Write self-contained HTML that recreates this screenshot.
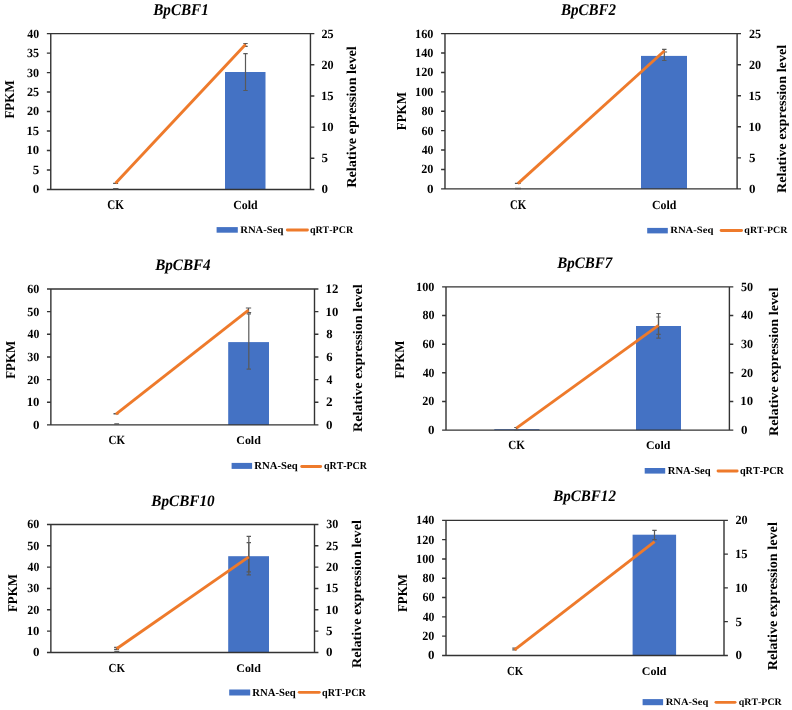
<!DOCTYPE html>
<html><head><meta charset="utf-8"><style>
html,body{margin:0;padding:0;background:#fff;width:792px;height:710px;overflow:hidden}
svg{display:block;will-change:transform}
text{font-family:"Liberation Serif",serif;font-kerning:none;text-rendering:geometricPrecision}
</style></head><body>
<svg width="792" height="710" viewBox="0 0 792 710">
<rect width="792" height="710" fill="#fff"/>
<rect x="225.00" y="72.00" width="40.50" height="117.43" fill="#4472C4"/>
<path d="M46.86,33.66H314.35M46.86,189.43H314.35M50.76,33.66V189.43M310.45,33.66V189.43" stroke="#333333" stroke-width="1.4" fill="none"/>
<path d="M46.86,169.96H50.76M46.86,150.49H50.76M46.86,131.02H50.76M46.86,111.55H50.76M46.86,92.07H50.76M46.86,72.60H50.76M46.86,53.13H50.76M310.45,158.28H314.35M310.45,127.12H314.35M310.45,95.97H314.35M310.45,64.81H314.35" stroke="#333333" stroke-width="1.4" fill="none"/>
<path d="M245.50,53.70V90.50M243.30,53.70H247.70M243.30,90.50H247.70" stroke="#595959" stroke-width="1.2" fill="none"/>
<path d="M115.80,188.60V188.90M113.10,188.60H118.50M113.10,188.90H118.50" stroke="#595959" stroke-width="1.2" fill="none"/>
<path d="M245.50,43.50V46.30M243.30,43.50H247.70M243.30,46.30H247.70" stroke="#595959" stroke-width="1.2" fill="none"/>
<path d="M115.60,183.30V183.30M113.10,183.30H118.10M113.10,183.30H118.10" stroke="#595959" stroke-width="1.2" fill="none"/>
<path d="M115.50,183.30L245.50,44.60" stroke="#EE7A2B" stroke-width="2.9" stroke-linecap="butt" fill="none"/>
<text x="32.71" y="193.36" font-size="12.60" font-weight="bold" font-style="normal" textLength="6.49" lengthAdjust="spacingAndGlyphs" fill="#000" >0</text>
<text x="32.68" y="173.88" font-size="12.79" font-weight="bold" font-style="normal" textLength="6.50" lengthAdjust="spacingAndGlyphs" fill="#000" >5</text>
<text x="26.48" y="154.41" font-size="12.60" font-weight="bold" font-style="normal" textLength="12.70" lengthAdjust="spacingAndGlyphs" fill="#000" >10</text>
<text x="26.48" y="134.94" font-size="12.69" font-weight="bold" font-style="normal" textLength="12.68" lengthAdjust="spacingAndGlyphs" fill="#000" >15</text>
<text x="26.99" y="115.47" font-size="12.60" font-weight="bold" font-style="normal" textLength="12.17" lengthAdjust="spacingAndGlyphs" fill="#000" >20</text>
<text x="26.99" y="96.00" font-size="12.65" font-weight="bold" font-style="normal" textLength="12.16" lengthAdjust="spacingAndGlyphs" fill="#000" >25</text>
<text x="27.04" y="76.53" font-size="12.60" font-weight="bold" font-style="normal" textLength="12.12" lengthAdjust="spacingAndGlyphs" fill="#000" >30</text>
<text x="27.05" y="57.06" font-size="12.65" font-weight="bold" font-style="normal" textLength="12.10" lengthAdjust="spacingAndGlyphs" fill="#000" >35</text>
<text x="27.34" y="37.59" font-size="12.60" font-weight="bold" font-style="normal" textLength="11.81" lengthAdjust="spacingAndGlyphs" fill="#000" >40</text>
<text x="321.51" y="193.36" font-size="12.60" font-weight="bold" font-style="normal" textLength="6.49" lengthAdjust="spacingAndGlyphs" fill="#000" >0</text>
<text x="321.48" y="162.20" font-size="12.79" font-weight="bold" font-style="normal" textLength="6.50" lengthAdjust="spacingAndGlyphs" fill="#000" >5</text>
<text x="320.98" y="131.05" font-size="12.60" font-weight="bold" font-style="normal" textLength="12.70" lengthAdjust="spacingAndGlyphs" fill="#000" >10</text>
<text x="320.98" y="99.89" font-size="12.69" font-weight="bold" font-style="normal" textLength="12.68" lengthAdjust="spacingAndGlyphs" fill="#000" >15</text>
<text x="321.49" y="68.74" font-size="12.60" font-weight="bold" font-style="normal" textLength="12.17" lengthAdjust="spacingAndGlyphs" fill="#000" >20</text>
<text x="321.49" y="37.59" font-size="12.65" font-weight="bold" font-style="normal" textLength="12.16" lengthAdjust="spacingAndGlyphs" fill="#000" >25</text>
<text x="153.24" y="14.60" font-size="16.31" font-weight="bold" font-style="italic" textLength="55.49" lengthAdjust="spacingAndGlyphs" fill="#000" >BpCBF1</text>
<text transform="translate(13.90,118.62) rotate(-90)" x="0" y="0" font-size="13.59" font-weight="bold" textLength="38.40" lengthAdjust="spacingAndGlyphs" fill="#000">FPKM</text>
<text transform="translate(356.45,187.74) rotate(-90)" x="0" y="0" font-size="13.62" font-weight="bold" textLength="141.54" lengthAdjust="spacingAndGlyphs" fill="#000">Relative epression level</text>
<text x="107.36" y="208.70" font-size="13.29" font-weight="bold" font-style="normal" textLength="16.58" lengthAdjust="spacingAndGlyphs" fill="#000" >CK</text>
<text x="233.22" y="208.70" font-size="12.39" font-weight="bold" font-style="normal" textLength="24.41" lengthAdjust="spacingAndGlyphs" fill="#000" >Cold</text>
<rect x="216.60" y="227.10" width="21.20" height="5.60" fill="#4472C4"/>
<path d="M287.30,230.00H307.50" stroke="#EE7A2B" stroke-width="2.8" stroke-linecap="round" fill="none"/>
<text x="240.22" y="232.50" font-size="10.12" font-weight="bold" font-style="normal" textLength="43.08" lengthAdjust="spacingAndGlyphs" fill="#000" >RNA-Seq</text>
<text x="309.89" y="232.50" font-size="10.12" font-weight="bold" font-style="normal" textLength="43.22" lengthAdjust="spacingAndGlyphs" fill="#000" >qRT-PCR</text>
<rect x="641.00" y="55.90" width="46.00" height="132.97" fill="#4472C4"/>
<path d="M441.08,33.66H741.00M441.08,188.87H741.00M444.98,33.66V188.87M737.10,33.66V188.87" stroke="#333333" stroke-width="1.4" fill="none"/>
<path d="M441.08,169.47H444.98M441.08,150.07H444.98M441.08,130.67H444.98M441.08,111.27H444.98M441.08,91.86H444.98M441.08,72.46H444.98M441.08,53.06H444.98M737.10,157.83H741.00M737.10,126.79H741.00M737.10,95.74H741.00M737.10,64.70H741.00" stroke="#333333" stroke-width="1.4" fill="none"/>
<path d="M664.30,49.30V60.50M662.10,49.30H666.50M662.10,60.50H666.50" stroke="#595959" stroke-width="1.2" fill="none"/>
<path d="M518.00,188.30V188.60M515.00,188.30H521.00M515.00,188.60H521.00" stroke="#595959" stroke-width="1.2" fill="none"/>
<path d="M517.80,183.30V183.30M514.90,183.30H520.70M514.90,183.30H520.70" stroke="#595959" stroke-width="1.2" fill="none"/>
<path d="M664.80,52.00V52.00M662.50,52.00H667.10M662.50,52.00H667.10" stroke="#595959" stroke-width="1.2" fill="none"/>
<path d="M517.80,183.60L664.50,50.80" stroke="#EE7A2B" stroke-width="2.9" stroke-linecap="butt" fill="none"/>
<text x="427.01" y="192.80" font-size="12.60" font-weight="bold" font-style="normal" textLength="6.49" lengthAdjust="spacingAndGlyphs" fill="#000" >0</text>
<text x="421.29" y="173.40" font-size="12.60" font-weight="bold" font-style="normal" textLength="12.17" lengthAdjust="spacingAndGlyphs" fill="#000" >20</text>
<text x="421.64" y="153.99" font-size="12.60" font-weight="bold" font-style="normal" textLength="11.81" lengthAdjust="spacingAndGlyphs" fill="#000" >40</text>
<text x="421.39" y="134.59" font-size="12.60" font-weight="bold" font-style="normal" textLength="12.07" lengthAdjust="spacingAndGlyphs" fill="#000" >60</text>
<text x="421.40" y="115.19" font-size="12.60" font-weight="bold" font-style="normal" textLength="12.06" lengthAdjust="spacingAndGlyphs" fill="#000" >80</text>
<text x="415.12" y="95.79" font-size="12.60" font-weight="bold" font-style="normal" textLength="18.35" lengthAdjust="spacingAndGlyphs" fill="#000" >100</text>
<text x="415.12" y="76.39" font-size="12.60" font-weight="bold" font-style="normal" textLength="18.35" lengthAdjust="spacingAndGlyphs" fill="#000" >120</text>
<text x="415.12" y="56.99" font-size="12.60" font-weight="bold" font-style="normal" textLength="18.35" lengthAdjust="spacingAndGlyphs" fill="#000" >140</text>
<text x="415.12" y="37.59" font-size="12.60" font-weight="bold" font-style="normal" textLength="18.35" lengthAdjust="spacingAndGlyphs" fill="#000" >160</text>
<text x="749.01" y="192.80" font-size="12.60" font-weight="bold" font-style="normal" textLength="6.49" lengthAdjust="spacingAndGlyphs" fill="#000" >0</text>
<text x="748.98" y="161.75" font-size="12.79" font-weight="bold" font-style="normal" textLength="6.50" lengthAdjust="spacingAndGlyphs" fill="#000" >5</text>
<text x="748.48" y="130.71" font-size="12.60" font-weight="bold" font-style="normal" textLength="12.70" lengthAdjust="spacingAndGlyphs" fill="#000" >10</text>
<text x="748.48" y="99.67" font-size="12.69" font-weight="bold" font-style="normal" textLength="12.68" lengthAdjust="spacingAndGlyphs" fill="#000" >15</text>
<text x="748.99" y="68.63" font-size="12.60" font-weight="bold" font-style="normal" textLength="12.17" lengthAdjust="spacingAndGlyphs" fill="#000" >20</text>
<text x="748.99" y="37.59" font-size="12.65" font-weight="bold" font-style="normal" textLength="12.16" lengthAdjust="spacingAndGlyphs" fill="#000" >25</text>
<text x="560.94" y="14.60" font-size="16.31" font-weight="bold" font-style="italic" textLength="55.11" lengthAdjust="spacingAndGlyphs" fill="#000" >BpCBF2</text>
<text transform="translate(406.20,130.32) rotate(-90)" x="0" y="0" font-size="13.74" font-weight="bold" textLength="38.30" lengthAdjust="spacingAndGlyphs" fill="#000">FPKM</text>
<text transform="translate(785.80,193.04) rotate(-90)" x="0" y="0" font-size="13.26" font-weight="bold" textLength="148.29" lengthAdjust="spacingAndGlyphs" fill="#000">Relative expression level</text>
<text x="509.97" y="208.70" font-size="13.29" font-weight="bold" font-style="normal" textLength="16.26" lengthAdjust="spacingAndGlyphs" fill="#000" >CK</text>
<text x="652.02" y="208.70" font-size="12.39" font-weight="bold" font-style="normal" textLength="24.41" lengthAdjust="spacingAndGlyphs" fill="#000" >Cold</text>
<rect x="647.20" y="227.90" width="20.60" height="5.50" fill="#4472C4"/>
<path d="M721.10,230.50H741.60" stroke="#EE7A2B" stroke-width="2.8" stroke-linecap="round" fill="none"/>
<text x="670.22" y="233.40" font-size="9.67" font-weight="bold" font-style="normal" textLength="43.18" lengthAdjust="spacingAndGlyphs" fill="#000" >RNA-Seq</text>
<text x="744.39" y="233.40" font-size="9.67" font-weight="bold" font-style="normal" textLength="43.02" lengthAdjust="spacingAndGlyphs" fill="#000" >qRT-PCR</text>
<rect x="228.20" y="342.10" width="40.80" height="82.80" fill="#4472C4"/>
<path d="M46.97,289.00H318.40M46.97,424.90H318.40M50.87,289.00V424.90M314.50,289.00V424.90" stroke="#333333" stroke-width="1.4" fill="none"/>
<path d="M46.97,402.25H50.87M46.97,379.60H50.87M46.97,356.95H50.87M46.97,334.30H50.87M46.97,311.65H50.87M314.50,402.25H318.40M314.50,379.60H318.40M314.50,356.95H318.40M314.50,334.30H318.40M314.50,311.65H318.40" stroke="#333333" stroke-width="1.4" fill="none"/>
<path d="M248.80,313.90V369.10M246.60,313.90H251.00M246.60,369.10H251.00" stroke="#595959" stroke-width="1.2" fill="none"/>
<path d="M116.70,423.90V424.30M114.30,423.90H119.10M114.30,424.30H119.10" stroke="#595959" stroke-width="1.2" fill="none"/>
<path d="M248.50,308.00V312.50M245.85,308.00H251.15M245.85,312.50H251.15" stroke="#595959" stroke-width="1.2" fill="none"/>
<path d="M116.00,413.50V413.90M113.50,413.50H118.50M113.50,413.90H118.50" stroke="#595959" stroke-width="1.2" fill="none"/>
<path d="M116.00,414.10L248.50,310.20" stroke="#EE7A2B" stroke-width="2.9" stroke-linecap="butt" fill="none"/>
<text x="32.91" y="428.83" font-size="12.60" font-weight="bold" font-style="normal" textLength="6.49" lengthAdjust="spacingAndGlyphs" fill="#000" >0</text>
<text x="26.68" y="406.18" font-size="12.60" font-weight="bold" font-style="normal" textLength="12.70" lengthAdjust="spacingAndGlyphs" fill="#000" >10</text>
<text x="27.19" y="383.53" font-size="12.60" font-weight="bold" font-style="normal" textLength="12.17" lengthAdjust="spacingAndGlyphs" fill="#000" >20</text>
<text x="27.24" y="360.88" font-size="12.60" font-weight="bold" font-style="normal" textLength="12.12" lengthAdjust="spacingAndGlyphs" fill="#000" >30</text>
<text x="27.54" y="338.23" font-size="12.60" font-weight="bold" font-style="normal" textLength="11.81" lengthAdjust="spacingAndGlyphs" fill="#000" >40</text>
<text x="27.21" y="315.58" font-size="12.60" font-weight="bold" font-style="normal" textLength="12.15" lengthAdjust="spacingAndGlyphs" fill="#000" >50</text>
<text x="27.29" y="292.93" font-size="12.60" font-weight="bold" font-style="normal" textLength="12.07" lengthAdjust="spacingAndGlyphs" fill="#000" >60</text>
<text x="326.11" y="428.83" font-size="12.60" font-weight="bold" font-style="normal" textLength="6.49" lengthAdjust="spacingAndGlyphs" fill="#000" >0</text>
<text x="326.04" y="406.30" font-size="12.84" font-weight="bold" font-style="normal" textLength="6.63" lengthAdjust="spacingAndGlyphs" fill="#000" >2</text>
<text x="326.44" y="383.65" font-size="12.91" font-weight="bold" font-style="normal" textLength="5.88" lengthAdjust="spacingAndGlyphs" fill="#000" >4</text>
<text x="326.17" y="360.88" font-size="12.65" font-weight="bold" font-style="normal" textLength="6.30" lengthAdjust="spacingAndGlyphs" fill="#000" >6</text>
<text x="326.18" y="338.23" font-size="12.60" font-weight="bold" font-style="normal" textLength="6.34" lengthAdjust="spacingAndGlyphs" fill="#000" >8</text>
<text x="325.58" y="315.58" font-size="12.60" font-weight="bold" font-style="normal" textLength="12.70" lengthAdjust="spacingAndGlyphs" fill="#000" >10</text>
<text x="325.58" y="293.05" font-size="12.84" font-weight="bold" font-style="normal" textLength="12.77" lengthAdjust="spacingAndGlyphs" fill="#000" >12</text>
<text x="155.14" y="269.60" font-size="16.01" font-weight="bold" font-style="italic" textLength="55.52" lengthAdjust="spacingAndGlyphs" fill="#000" >BpCBF4</text>
<text transform="translate(14.90,378.82) rotate(-90)" x="0" y="0" font-size="13.59" font-weight="bold" textLength="38.09" lengthAdjust="spacingAndGlyphs" fill="#000">FPKM</text>
<text transform="translate(362.10,432.04) rotate(-90)" x="0" y="0" font-size="13.12" font-weight="bold" textLength="147.83" lengthAdjust="spacingAndGlyphs" fill="#000">Relative expression level</text>
<text x="108.46" y="444.00" font-size="12.54" font-weight="bold" font-style="normal" textLength="16.52" lengthAdjust="spacingAndGlyphs" fill="#000" >CK</text>
<text x="236.27" y="443.90" font-size="11.67" font-weight="bold" font-style="normal" textLength="24.57" lengthAdjust="spacingAndGlyphs" fill="#000" >Cold</text>
<rect x="231.60" y="462.90" width="20.50" height="6.00" fill="#4472C4"/>
<path d="M301.70,466.50H320.70" stroke="#EE7A2B" stroke-width="2.8" stroke-linecap="round" fill="none"/>
<text x="254.22" y="469.30" font-size="10.57" font-weight="bold" font-style="normal" textLength="43.38" lengthAdjust="spacingAndGlyphs" fill="#000" >RNA-Seq</text>
<text x="323.99" y="469.30" font-size="10.57" font-weight="bold" font-style="normal" textLength="42.92" lengthAdjust="spacingAndGlyphs" fill="#000" >qRT-PCR</text>
<rect x="494.30" y="429.20" width="45.10" height="0.90" fill="#4472C4"/>
<rect x="636.00" y="326.00" width="45.00" height="104.10" fill="#4472C4"/>
<path d="M442.10,286.90H733.30M442.10,430.10H733.30M446.00,286.90V430.10M729.40,286.90V430.10" stroke="#333333" stroke-width="1.4" fill="none"/>
<path d="M442.10,401.46H446.00M442.10,372.82H446.00M442.10,344.18H446.00M442.10,315.54H446.00M729.40,401.46H733.30M729.40,372.82H733.30M729.40,344.18H733.30M729.40,315.54H733.30" stroke="#333333" stroke-width="1.4" fill="none"/>
<path d="M658.50,313.50V338.20M656.30,313.50H660.70M656.30,338.20H660.70" stroke="#595959" stroke-width="1.2" fill="none"/>
<path d="M516.40,427.50V430.00M514.20,427.50H518.60M514.20,430.00H518.60" stroke="#595959" stroke-width="1.2" fill="none"/>
<path d="M658.50,317.00V334.30M656.30,317.00H660.70M656.30,334.30H660.70" stroke="#595959" stroke-width="1.2" fill="none"/>
<path d="M516.40,428.20L658.50,325.40" stroke="#EE7A2B" stroke-width="2.9" stroke-linecap="butt" fill="none"/>
<text x="428.01" y="434.03" font-size="12.60" font-weight="bold" font-style="normal" textLength="6.49" lengthAdjust="spacingAndGlyphs" fill="#000" >0</text>
<text x="422.29" y="405.39" font-size="12.60" font-weight="bold" font-style="normal" textLength="12.17" lengthAdjust="spacingAndGlyphs" fill="#000" >20</text>
<text x="422.64" y="376.75" font-size="12.60" font-weight="bold" font-style="normal" textLength="11.81" lengthAdjust="spacingAndGlyphs" fill="#000" >40</text>
<text x="422.39" y="348.11" font-size="12.60" font-weight="bold" font-style="normal" textLength="12.07" lengthAdjust="spacingAndGlyphs" fill="#000" >60</text>
<text x="422.40" y="319.47" font-size="12.60" font-weight="bold" font-style="normal" textLength="12.06" lengthAdjust="spacingAndGlyphs" fill="#000" >80</text>
<text x="416.12" y="290.83" font-size="12.60" font-weight="bold" font-style="normal" textLength="18.35" lengthAdjust="spacingAndGlyphs" fill="#000" >100</text>
<text x="740.91" y="434.03" font-size="12.60" font-weight="bold" font-style="normal" textLength="6.49" lengthAdjust="spacingAndGlyphs" fill="#000" >0</text>
<text x="740.38" y="405.39" font-size="12.60" font-weight="bold" font-style="normal" textLength="12.70" lengthAdjust="spacingAndGlyphs" fill="#000" >10</text>
<text x="740.89" y="376.75" font-size="12.60" font-weight="bold" font-style="normal" textLength="12.17" lengthAdjust="spacingAndGlyphs" fill="#000" >20</text>
<text x="740.94" y="348.11" font-size="12.60" font-weight="bold" font-style="normal" textLength="12.12" lengthAdjust="spacingAndGlyphs" fill="#000" >30</text>
<text x="741.24" y="319.47" font-size="12.60" font-weight="bold" font-style="normal" textLength="11.81" lengthAdjust="spacingAndGlyphs" fill="#000" >40</text>
<text x="740.91" y="290.83" font-size="12.60" font-weight="bold" font-style="normal" textLength="12.15" lengthAdjust="spacingAndGlyphs" fill="#000" >50</text>
<text x="557.14" y="267.60" font-size="16.01" font-weight="bold" font-style="italic" textLength="55.06" lengthAdjust="spacingAndGlyphs" fill="#000" >BpCBF7</text>
<text transform="translate(404.20,378.52) rotate(-90)" x="0" y="0" font-size="13.44" font-weight="bold" textLength="37.79" lengthAdjust="spacingAndGlyphs" fill="#000">FPKM</text>
<text transform="translate(778.15,435.94) rotate(-90)" x="0" y="0" font-size="13.19" font-weight="bold" textLength="148.29" lengthAdjust="spacingAndGlyphs" fill="#000">Relative expression level</text>
<text x="508.31" y="449.10" font-size="12.54" font-weight="bold" font-style="normal" textLength="16.68" lengthAdjust="spacingAndGlyphs" fill="#000" >CK</text>
<text x="646.02" y="449.10" font-size="11.67" font-weight="bold" font-style="normal" textLength="24.41" lengthAdjust="spacingAndGlyphs" fill="#000" >Cold</text>
<rect x="644.70" y="468.00" width="20.50" height="5.60" fill="#4472C4"/>
<path d="M718.00,471.00H737.20" stroke="#EE7A2B" stroke-width="2.8" stroke-linecap="round" fill="none"/>
<text x="667.82" y="474.20" font-size="10.57" font-weight="bold" font-style="normal" textLength="42.88" lengthAdjust="spacingAndGlyphs" fill="#000" >RNA-Seq</text>
<text x="739.98" y="474.20" font-size="10.57" font-weight="bold" font-style="normal" textLength="43.93" lengthAdjust="spacingAndGlyphs" fill="#000" >qRT-PCR</text>
<rect x="228.20" y="556.20" width="40.80" height="96.23" fill="#4472C4"/>
<path d="M46.97,524.43H318.40M46.97,652.43H318.40M50.87,524.43V652.43M314.50,524.43V652.43" stroke="#333333" stroke-width="1.4" fill="none"/>
<path d="M46.97,631.10H50.87M46.97,609.76H50.87M46.97,588.43H50.87M46.97,567.10H50.87M46.97,545.76H50.87M314.50,631.10H318.40M314.50,609.76H318.40M314.50,588.43H318.40M314.50,567.10H318.40M314.50,545.76H318.40" stroke="#333333" stroke-width="1.4" fill="none"/>
<path d="M248.80,536.40V574.90M246.60,536.40H251.00M246.60,574.90H251.00" stroke="#595959" stroke-width="1.2" fill="none"/>
<path d="M116.80,651.40V651.80M114.30,651.40H119.30M114.30,651.80H119.30" stroke="#595959" stroke-width="1.2" fill="none"/>
<path d="M248.80,542.70V571.80M246.60,542.70H251.00M246.60,571.80H251.00" stroke="#595959" stroke-width="1.2" fill="none"/>
<path d="M116.50,647.30V649.30M114.10,647.30H118.90M114.10,649.30H118.90" stroke="#595959" stroke-width="1.2" fill="none"/>
<path d="M116.60,648.70L248.80,556.90" stroke="#EE7A2B" stroke-width="2.9" stroke-linecap="butt" fill="none"/>
<text x="32.91" y="656.36" font-size="12.60" font-weight="bold" font-style="normal" textLength="6.49" lengthAdjust="spacingAndGlyphs" fill="#000" >0</text>
<text x="26.68" y="635.02" font-size="12.60" font-weight="bold" font-style="normal" textLength="12.70" lengthAdjust="spacingAndGlyphs" fill="#000" >10</text>
<text x="27.19" y="613.69" font-size="12.60" font-weight="bold" font-style="normal" textLength="12.17" lengthAdjust="spacingAndGlyphs" fill="#000" >20</text>
<text x="27.24" y="592.36" font-size="12.60" font-weight="bold" font-style="normal" textLength="12.12" lengthAdjust="spacingAndGlyphs" fill="#000" >30</text>
<text x="27.54" y="571.02" font-size="12.60" font-weight="bold" font-style="normal" textLength="11.81" lengthAdjust="spacingAndGlyphs" fill="#000" >40</text>
<text x="27.21" y="549.69" font-size="12.60" font-weight="bold" font-style="normal" textLength="12.15" lengthAdjust="spacingAndGlyphs" fill="#000" >50</text>
<text x="27.29" y="528.36" font-size="12.60" font-weight="bold" font-style="normal" textLength="12.07" lengthAdjust="spacingAndGlyphs" fill="#000" >60</text>
<text x="326.11" y="656.36" font-size="12.60" font-weight="bold" font-style="normal" textLength="6.49" lengthAdjust="spacingAndGlyphs" fill="#000" >0</text>
<text x="326.08" y="635.02" font-size="12.79" font-weight="bold" font-style="normal" textLength="6.50" lengthAdjust="spacingAndGlyphs" fill="#000" >5</text>
<text x="325.58" y="613.69" font-size="12.60" font-weight="bold" font-style="normal" textLength="12.70" lengthAdjust="spacingAndGlyphs" fill="#000" >10</text>
<text x="325.58" y="592.36" font-size="12.69" font-weight="bold" font-style="normal" textLength="12.68" lengthAdjust="spacingAndGlyphs" fill="#000" >15</text>
<text x="326.09" y="571.02" font-size="12.60" font-weight="bold" font-style="normal" textLength="12.17" lengthAdjust="spacingAndGlyphs" fill="#000" >20</text>
<text x="326.09" y="549.69" font-size="12.65" font-weight="bold" font-style="normal" textLength="12.16" lengthAdjust="spacingAndGlyphs" fill="#000" >25</text>
<text x="326.14" y="528.36" font-size="12.60" font-weight="bold" font-style="normal" textLength="12.12" lengthAdjust="spacingAndGlyphs" fill="#000" >30</text>
<text x="151.34" y="505.60" font-size="15.94" font-weight="bold" font-style="italic" textLength="63.33" lengthAdjust="spacingAndGlyphs" fill="#000" >BpCBF10</text>
<text transform="translate(16.60,612.12) rotate(-90)" x="0" y="0" font-size="13.44" font-weight="bold" textLength="38.09" lengthAdjust="spacingAndGlyphs" fill="#000">FPKM</text>
<text transform="translate(360.80,668.04) rotate(-90)" x="0" y="0" font-size="13.40" font-weight="bold" textLength="147.98" lengthAdjust="spacingAndGlyphs" fill="#000">Relative expression level</text>
<text x="108.46" y="672.00" font-size="12.38" font-weight="bold" font-style="normal" textLength="16.52" lengthAdjust="spacingAndGlyphs" fill="#000" >CK</text>
<text x="236.27" y="671.90" font-size="11.67" font-weight="bold" font-style="normal" textLength="24.57" lengthAdjust="spacingAndGlyphs" fill="#000" >Cold</text>
<rect x="229.20" y="689.50" width="21.00" height="6.00" fill="#4472C4"/>
<path d="M299.20,692.30H319.30" stroke="#EE7A2B" stroke-width="2.8" stroke-linecap="round" fill="none"/>
<text x="252.32" y="695.70" font-size="10.87" font-weight="bold" font-style="normal" textLength="43.38" lengthAdjust="spacingAndGlyphs" fill="#000" >RNA-Seq</text>
<text x="322.09" y="695.70" font-size="10.87" font-weight="bold" font-style="normal" textLength="43.83" lengthAdjust="spacingAndGlyphs" fill="#000" >qRT-PCR</text>
<rect x="632.60" y="534.70" width="43.50" height="120.75" fill="#4472C4"/>
<path d="M442.10,520.33H727.90M442.10,655.45H727.90M446.00,520.33V655.45M724.00,520.33V655.45" stroke="#333333" stroke-width="1.4" fill="none"/>
<path d="M442.10,636.15H446.00M442.10,616.84H446.00M442.10,597.54H446.00M442.10,578.24H446.00M442.10,558.94H446.00M442.10,539.63H446.00M724.00,621.67H727.90M724.00,587.89H727.90M724.00,554.11H727.90" stroke="#333333" stroke-width="1.4" fill="none"/>
<path d="M654.50,530.30V539.70M652.30,530.30H656.70M652.30,539.70H656.70" stroke="#595959" stroke-width="1.2" fill="none"/>
<path d="M514.50,648.20V649.80M512.30,648.20H516.70M512.30,649.80H516.70" stroke="#595959" stroke-width="1.2" fill="none"/>
<path d="M514.50,649.80L654.60,541.70" stroke="#EE7A2B" stroke-width="2.9" stroke-linecap="butt" fill="none"/>
<text x="428.01" y="659.38" font-size="12.60" font-weight="bold" font-style="normal" textLength="6.49" lengthAdjust="spacingAndGlyphs" fill="#000" >0</text>
<text x="422.29" y="640.07" font-size="12.60" font-weight="bold" font-style="normal" textLength="12.17" lengthAdjust="spacingAndGlyphs" fill="#000" >20</text>
<text x="422.64" y="620.77" font-size="12.60" font-weight="bold" font-style="normal" textLength="11.81" lengthAdjust="spacingAndGlyphs" fill="#000" >40</text>
<text x="422.39" y="601.47" font-size="12.60" font-weight="bold" font-style="normal" textLength="12.07" lengthAdjust="spacingAndGlyphs" fill="#000" >60</text>
<text x="422.40" y="582.17" font-size="12.60" font-weight="bold" font-style="normal" textLength="12.06" lengthAdjust="spacingAndGlyphs" fill="#000" >80</text>
<text x="416.12" y="562.86" font-size="12.60" font-weight="bold" font-style="normal" textLength="18.35" lengthAdjust="spacingAndGlyphs" fill="#000" >100</text>
<text x="416.12" y="543.56" font-size="12.60" font-weight="bold" font-style="normal" textLength="18.35" lengthAdjust="spacingAndGlyphs" fill="#000" >120</text>
<text x="416.12" y="524.26" font-size="12.60" font-weight="bold" font-style="normal" textLength="18.35" lengthAdjust="spacingAndGlyphs" fill="#000" >140</text>
<text x="735.51" y="659.38" font-size="12.60" font-weight="bold" font-style="normal" textLength="6.49" lengthAdjust="spacingAndGlyphs" fill="#000" >0</text>
<text x="735.48" y="625.60" font-size="12.79" font-weight="bold" font-style="normal" textLength="6.50" lengthAdjust="spacingAndGlyphs" fill="#000" >5</text>
<text x="734.98" y="591.82" font-size="12.60" font-weight="bold" font-style="normal" textLength="12.70" lengthAdjust="spacingAndGlyphs" fill="#000" >10</text>
<text x="734.98" y="558.04" font-size="12.69" font-weight="bold" font-style="normal" textLength="12.68" lengthAdjust="spacingAndGlyphs" fill="#000" >15</text>
<text x="735.49" y="524.26" font-size="12.60" font-weight="bold" font-style="normal" textLength="12.17" lengthAdjust="spacingAndGlyphs" fill="#000" >20</text>
<text x="553.14" y="500.60" font-size="16.01" font-weight="bold" font-style="italic" textLength="62.81" lengthAdjust="spacingAndGlyphs" fill="#000" >BpCBF12</text>
<text transform="translate(406.60,612.12) rotate(-90)" x="0" y="0" font-size="13.59" font-weight="bold" textLength="38.09" lengthAdjust="spacingAndGlyphs" fill="#000">FPKM</text>
<text transform="translate(776.50,670.34) rotate(-90)" x="0" y="0" font-size="13.69" font-weight="bold" textLength="148.19" lengthAdjust="spacingAndGlyphs" fill="#000">Relative expression level</text>
<text x="506.97" y="675.00" font-size="12.38" font-weight="bold" font-style="normal" textLength="16.26" lengthAdjust="spacingAndGlyphs" fill="#000" >CK</text>
<text x="641.82" y="674.90" font-size="11.67" font-weight="bold" font-style="normal" textLength="24.62" lengthAdjust="spacingAndGlyphs" fill="#000" >Cold</text>
<rect x="642.60" y="699.10" width="20.50" height="6.10" fill="#4472C4"/>
<path d="M715.90,702.30H735.10" stroke="#EE7A2B" stroke-width="2.8" stroke-linecap="round" fill="none"/>
<text x="665.72" y="704.80" font-size="9.82" font-weight="bold" font-style="normal" textLength="42.68" lengthAdjust="spacingAndGlyphs" fill="#000" >RNA-Seq</text>
<text x="738.79" y="704.80" font-size="9.82" font-weight="bold" font-style="normal" textLength="42.92" lengthAdjust="spacingAndGlyphs" fill="#000" >qRT-PCR</text>
</svg>
</body></html>
